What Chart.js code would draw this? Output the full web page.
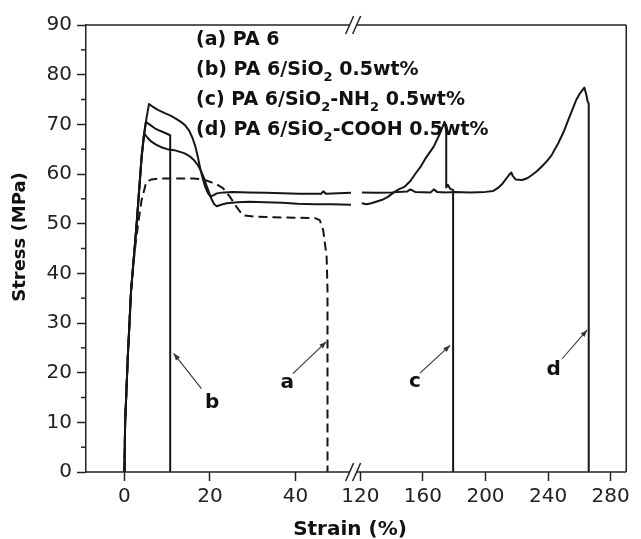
<!DOCTYPE html>
<html>
<head>
<meta charset="utf-8">
<script src="https://cdn.jsdelivr.net/npm/chart.js@4/dist/chart.umd.min.js"></script>
<style>
  html, body { margin: 0; padding: 0; background: #fff; }
  canvas { display: block; }
</style>
</head>
<body>
<canvas id="c" width="641" height="539"></canvas>
<script>
// ---------- tick labels ----------
const leftTicks  = [0, 20, 40];
const rightTicks = [120, 160, 200, 240, 280];
const yTicks     = [0, 10, 20, 30, 40, 50, 60, 70, 80, 90];
const yMinorTicks = [5, 15, 25, 35, 45, 55, 65, 75, 85];

// ---------- axis ranges (broken strain axis) ----------
const leftRange  = [-9.0, 54.2];
const rightRange = [117.3, 290];
const stressRange = [0, 90];

// ---------- series (strain %, stress MPa) ----------
// (a) PA 6  (dashed)
const aStrain = [0, 0.15, 0.78, 1.55, 2.4, 3.2, 4.0, 5.1, 6.3, 8, 10, 13, 16.2, 18.5, 20.1, 21.8, 23.1, 24.6, 26.2, 27.7, 30.8, 35, 40, 44.6, 45.7, 46.5, 47.3, 47.5, 47.5];
const aStress = [0, 9.8, 23.2, 36.6, 44.5, 50.0, 54.7, 58.4, 58.9, 59.1, 59.1, 59.1, 59.1, 58.9, 58.4, 57.8, 57.1, 55.5, 53.4, 51.7, 51.4, 51.3, 51.2, 51.1, 50.7, 48.7, 43.3, 36.6, 0];
// (b) PA 6/SiO2 0.5wt%
const bStrain = [0, 0.15, 0.78, 1.55, 2.85, 4.0, 4.5, 5.0, 6.0, 7.1, 8.3, 9.4, 10.7, 10.7];
const bStress = [0, 9.8, 23.2, 36.6, 50.0, 63.0, 67.5, 70.5, 69.9, 69.2, 68.7, 68.3, 67.8, 0];
// (c) PA 6/SiO2-NH2 0.5wt%
const cLeftStrain = [0, 0.15, 0.78, 1.55, 2.85, 4.0, 4.6, 5.4, 6.3, 7.4, 8.6, 10.0, 11.65, 13.95, 15.2, 16.25, 17.1, 17.8, 18.6, 19.3, 20.0, 20.5, 21.0, 21.6, 22.6, 23.9, 26.5, 29.3, 33, 36.9, 40.5, 44.6, 48.5, 53.0];
const cLeftStress = [0, 9.8, 23.2, 36.6, 50.0, 63.5, 68.2, 67.3, 66.5, 65.9, 65.4, 65.0, 64.8, 64.2, 63.6, 62.8, 61.9, 60.8, 59.2, 57.4, 55.8, 54.7, 53.9, 53.5, 53.8, 54.1, 54.3, 54.4, 54.3, 54.2, 54.0, 53.9, 53.9, 53.8];
const cRightStrain = [120.9, 124, 127, 130, 134, 137.6, 141, 144.5, 148.1, 152, 155.5, 158.6, 162, 166.9, 170.5, 173.8, 174.9, 174.9, 176, 177.5, 179.3, 179.3];
const cRightStress = [54.1, 53.9, 54.1, 54.4, 54.8, 55.4, 56.2, 56.9, 57.4, 58.6, 60.2, 61.5, 63.3, 65.5, 67.9, 70.5, 69.6, 57.3, 57.8, 57.0, 56.8, 0];
// (d) PA 6/SiO2-COOH 0.5wt%
const dLeftStrain = [0, 0.15, 0.78, 1.55, 2.85, 4.0, 4.6, 5.2, 5.75, 6.7, 7.8, 9.3, 10.9, 12.1, 13.2, 14.2, 15.1, 15.9, 16.6, 17.2, 17.8, 18.4, 18.9, 19.5, 20.1, 20.8, 21.6, 23.3, 25.4, 29, 33.1, 37, 40.8, 44, 46.0, 46.5, 47.2, 50, 53.0];
const dLeftStress = [0, 9.8, 23.2, 36.6, 50.0, 63.5, 68.0, 71.5, 74.1, 73.5, 72.9, 72.3, 71.7, 71.1, 70.5, 69.8, 68.8, 67.3, 65.5, 63.3, 60.8, 58.8, 57.4, 56.2, 55.5, 55.7, 56.1, 56.3, 56.4, 56.3, 56.2, 56.1, 56.0, 56.0, 56.0, 56.5, 56.0, 56.1, 56.2];
const dRightStrain = [121, 130, 140, 150, 152, 155, 165, 167, 169, 175, 180, 190, 200, 205, 208, 211, 215, 216.5, 217.5, 219.2, 223.5, 227, 229.7, 233, 236, 239, 242.3, 246.5, 250, 252.8, 255.5, 258, 260.5, 263.2, 264.6, 265.3, 266, 266];
const dRightStress = [56.3, 56.2, 56.3, 56.5, 56.9, 56.4, 56.3, 56.9, 56.4, 56.3, 56.4, 56.3, 56.4, 56.6, 57.2, 58.1, 59.8, 60.3, 59.6, 58.9, 58.8, 59.2, 59.8, 60.6, 61.5, 62.5, 63.8, 66.2, 68.5, 70.8, 72.9, 74.9, 76.3, 77.4, 75.8, 74.6, 74.2, 0];

// ---------- text ----------
const seriesLabels = [
  [['(a) PA 6', 0]],
  [['(b) PA 6/SiO', 0], ['2', 1], [' 0.5wt%', 0]],
  [['(c) PA 6/SiO', 0], ['2', 1], ['-NH', 0], ['2', 1], [' 0.5wt%', 0]],
  [['(d) PA 6/SiO', 0], ['2', 1], ['-COOH 0.5wt%', 0]]
];
const xTitle = 'Strain (%)';
const yTitle = 'Stress (MPa)';
// arrow annotations: [letter, axis, tailX, tailY, tipX, tipY, labelX, labelY]
const arrows = [
  ['b', 'xL', 18.0, 16.8, 11.5, 23.9, 20.5, 12.8],
  ['a', 'xL', 39.4, 19.8, 47.2, 26.2, 38.1, 16.9],
  ['c', 'xR', 158.1, 19.9, 177.4, 25.5, 154.9, 17.1],
  ['d', 'xR', 249.0, 22.8, 265.0, 28.6, 243.6, 19.5]
];

const pts = (xs, ys) => xs.map((x, i) => ({ x: x, y: ys[i] }));
const INK = '#161616';
const FRAME = '#222';

function ds(label, xs, ys, axis, dash) {
  return {
    label: label, data: pts(xs, ys), xAxisID: axis, yAxisID: 'y',
    borderColor: INK, borderWidth: 2, pointRadius: 0, fill: false,
    tension: 0, borderDash: dash || [], borderJoinStyle: 'round', borderCapStyle: 'butt'
  };
}

const decor = {
  id: 'decor',
  afterDraw(chart) {
    const { ctx, chartArea: ca, scales } = chart;
    const y = scales.y;
    ctx.save();
    ctx.strokeStyle = FRAME;
    ctx.lineWidth = 1.5;
    const seg = (x1, y1, x2, y2) => { ctx.beginPath(); ctx.moveTo(x1, y1); ctx.lineTo(x2, y2); ctx.stroke(); };
    const brk = scales.xR.left - 3;
    // frame
    seg(ca.left, ca.bottom, brk - 3.5, ca.bottom);
    seg(brk + 3.5, ca.bottom, ca.right, ca.bottom);
    seg(ca.left, ca.top, brk - 3.5, ca.top);
    seg(brk + 3.5, ca.top, ca.right, ca.top);
    seg(ca.right, ca.top, ca.right, ca.bottom);
    // break marks
    [ca.top, ca.bottom].forEach(yy => {
      [brk - 3.5, brk + 3.5].forEach(cx => seg(cx - 4, yy + 9, cx + 4, yy - 9));
    });
    // minor y ticks
    yMinorTicks.forEach(v => { const py = y.getPixelForValue(v); seg(ca.left - 5, py, ca.left, py); });

    // legend text
    ctx.fillStyle = '#111';
    ctx.textBaseline = 'alphabetic';
    ctx.textAlign = 'left';
    seriesLabels.forEach((parts, i) => {
      let x = 196;
      const base = 45 + 30 * i;
      parts.forEach(([t, sub]) => {
        ctx.font = sub ? 'bold 13px "DejaVu Sans"' : 'bold 19px "DejaVu Sans"';
        ctx.fillText(t, x, sub ? base + 6 : base);
        x += ctx.measureText(t).width;
      });
    });

    // arrows with letters
    ctx.strokeStyle = '#333';
    ctx.fillStyle = '#333';
    ctx.lineWidth = 1.1;
    arrows.forEach(([letter, ax, tx, ty, hx, hy, lx, ly]) => {
      const s = scales[ax];
      const x1 = s.getPixelForValue(tx), y1 = y.getPixelForValue(ty);
      const x2 = s.getPixelForValue(hx), y2 = y.getPixelForValue(hy);
      seg(x1, y1, x2, y2);
      const ang = Math.atan2(y2 - y1, x2 - x1);
      const L = 7, W = 2.6;
      ctx.beginPath();
      ctx.moveTo(x2, y2);
      ctx.lineTo(x2 - L * Math.cos(ang) + W * Math.sin(ang), y2 - L * Math.sin(ang) - W * Math.cos(ang));
      ctx.lineTo(x2 - L * Math.cos(ang) - W * Math.sin(ang), y2 - L * Math.sin(ang) + W * Math.cos(ang));
      ctx.closePath();
      ctx.fill();
      ctx.fillStyle = '#111';
      ctx.font = 'bold 20px "DejaVu Sans"';
      ctx.textAlign = 'center';
      ctx.fillText(letter, s.getPixelForValue(lx), y.getPixelForValue(ly));
      ctx.fillStyle = '#333';
    });

    // axis titles
    ctx.fillStyle = '#111';
    ctx.font = 'bold 20px "DejaVu Sans"';
    ctx.textAlign = 'center';
    ctx.textBaseline = 'alphabetic';
    ctx.fillText(xTitle, 350, 535);
    ctx.translate(20, 237);
    ctx.rotate(-Math.PI / 2);
    ctx.font = 'bold 18px "DejaVu Sans"';
    ctx.textBaseline = 'middle';
    ctx.fillText(yTitle, 0, 0);
    ctx.restore();
  }
};

function xScale(range, ticks) {
  return {
    type: 'linear', position: 'bottom', stack: 'strain', stackWeight: 1,
    min: range[0], max: range[1],
    afterBuildTicks: s => { s.ticks = ticks.map(v => ({ value: v })); },
    afterFit: s => { s.height = 67; },
    border: { display: false },
    grid: { display: true, drawOnChartArea: false, drawTicks: true, tickLength: 9, tickWidth: 1.5, tickColor: FRAME },
    ticks: { color: '#222', padding: 4, maxRotation: 0, autoSkip: false, font: { family: 'DejaVu Sans', size: 20 } }
  };
}

new Chart(document.getElementById('c'), {
  type: 'line',
  data: {
    datasets: [
      ds('(a) PA 6', aStrain, aStress, 'xL', [9, 5]),
      ds('(b) PA 6/SiO2 0.5wt%', bStrain, bStress, 'xL'),
      ds('(c) PA 6/SiO2-NH2 0.5wt%', cLeftStrain, cLeftStress, 'xL'),
      ds('(c) PA 6/SiO2-NH2 0.5wt%', cRightStrain, cRightStress, 'xR'),
      ds('(d) PA 6/SiO2-COOH 0.5wt%', dLeftStrain, dLeftStress, 'xL'),
      ds('(d) PA 6/SiO2-COOH 0.5wt%', dRightStrain, dRightStress, 'xR')
    ]
  },
  options: {
    responsive: false,
    animation: false,
    devicePixelRatio: 1,
    layout: { padding: { top: 25, right: 5, bottom: 0, left: 0 } },
    plugins: { legend: { display: false }, tooltip: { enabled: false } },
    scales: {
      xL: xScale(leftRange, leftTicks),
      xR: xScale(rightRange, rightTicks),
      y: {
        type: 'linear', position: 'left',
        min: stressRange[0], max: stressRange[1],
        afterBuildTicks: s => { s.ticks = yTicks.map(v => ({ value: v })); },
        afterFit: s => { s.width = 86; },
        border: { display: true, color: FRAME, width: 1.5 },
        grid: { display: true, drawOnChartArea: false, drawTicks: true, tickLength: 9, tickWidth: 1.5, tickColor: FRAME },
        ticks: { color: '#222', padding: 5, font: { family: 'DejaVu Sans', size: 20 } }
      }
    }
  },
  plugins: [decor]
});
</script>
</body>
</html>
